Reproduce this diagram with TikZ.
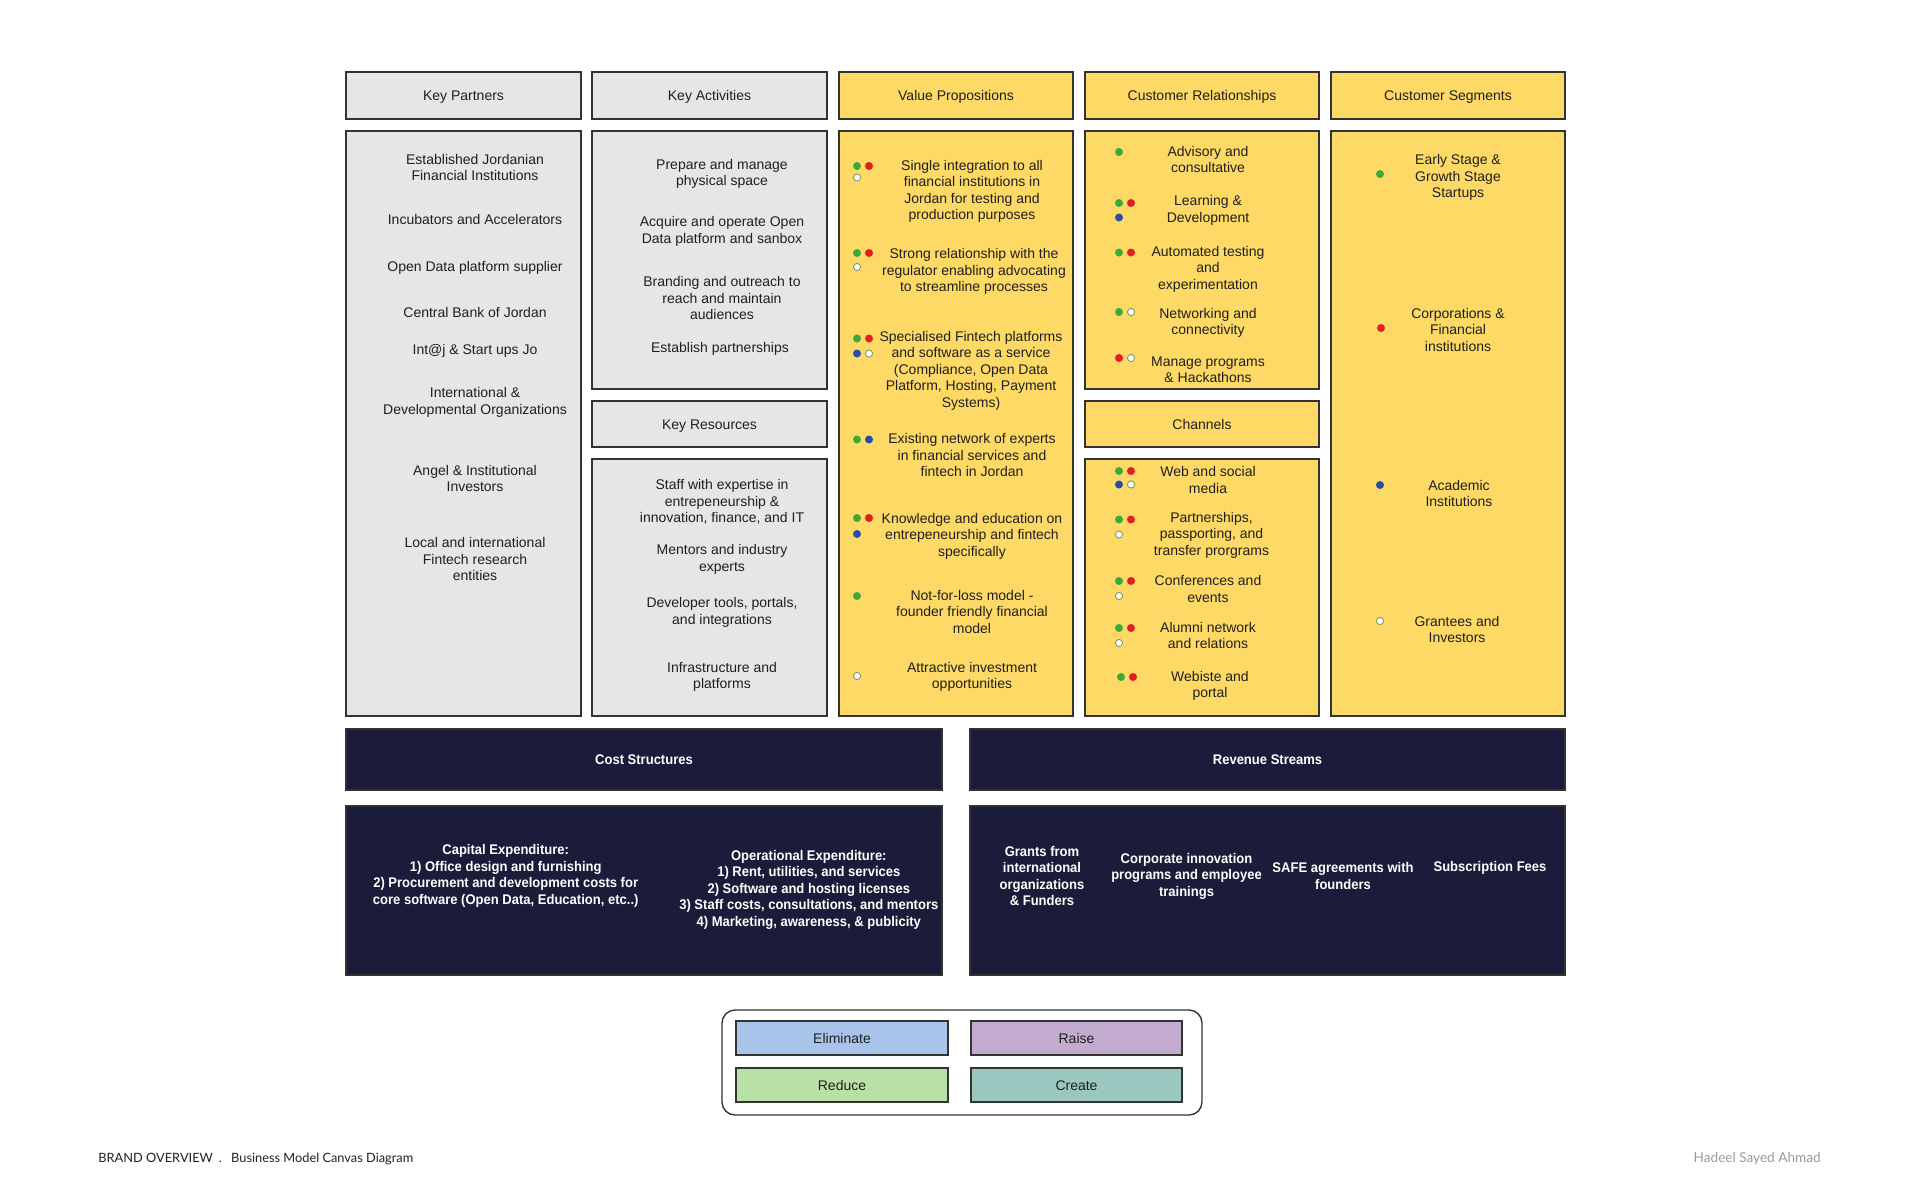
\documentclass[tikz,border=0pt]{standalone}
\usepackage{fontspec}
\setmainfont{Liberation Sans}
\newfontfamily\navyfont[FakeStretch=0.93]{Liberation Sans}
\newfontfamily\footfont{Lato}
\definecolor{kgray}{HTML}{E6E6E6}
\definecolor{kyel}{HTML}{FFD966}
\definecolor{knavy}{HTML}{1B1B3A}
\definecolor{kline}{HTML}{333333}
\definecolor{ktext}{HTML}{1F1F1F}
\definecolor{celim}{HTML}{A9C4EB}
\definecolor{craise}{HTML}{C3ABD0}
\definecolor{creduce}{HTML}{B9E0A5}
\definecolor{ccreate}{HTML}{9AC7BF}
\definecolor{dgreen}{HTML}{3BAA3B}
\definecolor{dred}{HTML}{E31E24}
\definecolor{dblue}{HTML}{2B4BA8}
\definecolor{dwline}{HTML}{7E9A6A}
\definecolor{footdark}{HTML}{222222}
\definecolor{footgray}{HTML}{9A9A9A}
\tikzset{
  base/.style={draw=kline, line width=0.7pt, inner sep=0pt, outer sep=0pt,
    font=\fontsize{7}{8.2}\selectfont, text=ktext, align=center,
    text height=5pt, text depth=0pt},
  gbox/.style={base, fill=kgray},
  ybox/.style={base, fill=kyel},
  nbox/.style={base, fill=knavy, text=white, font=\navyfont\bfseries\fontsize{7}{8.25}\selectfont},
  legout/.style={draw=kline, line width=0.7pt, rounded corners=6.5pt, fill=white, inner sep=0pt},
  txt/.style={inner sep=0pt, align=center, font=\fontsize{7}{8.2}\selectfont, text=ktext},
  ntxt/.style={inner sep=0pt, align=center, text=white, font=\navyfont\bfseries\fontsize{7}{8.25}\selectfont},
  dotg/.style={circle, inner sep=0pt, minimum size=4pt, fill=dgreen},
  dotr/.style={circle, inner sep=0pt, minimum size=4pt, fill=dred},
  dotb/.style={circle, inner sep=0pt, minimum size=4pt, fill=dblue},
  dotw/.style={circle, inner sep=0pt, minimum size=3.6pt, fill=white, draw=dwline, line width=0.45pt},
}
\newcommand\bx[7]{%
  \pgfmathsetmacro\bxcx{(#3+#5)/2}%
  \pgfmathsetmacro\bxcy{(#4+#6)/2}%
  \pgfmathsetmacro\bxw{(#5-#3)/2}%
  \pgfmathsetmacro\bxh{(#6-#4)/2}%
  \node[#2, minimum width=\bxw pt, minimum height=\bxh pt] (#1) at (\bxcx,\bxcy) {#7};}
\newcommand\dt[4]{\node[#1] (#2) at (#3,#4) {};}
\begin{document}
\begin{tikzpicture}[x=0.5pt,y=-0.5pt]
\fill[white] (0,0) rectangle (1920,1200);
\useasboundingbox (0,0) rectangle (1920,1200);

% headers
\bx{kph}{gbox}{346}{72}{581}{119}{Key Partners}
\bx{kah}{gbox}{592}{72}{827}{119}{Key Activities}
\bx{vph}{ybox}{839}{72}{1073}{119}{Value Propositions}
\bx{crh}{ybox}{1085}{72}{1319}{119}{Customer Relationships}
\bx{csh}{ybox}{1331}{72}{1565}{119}{Customer Segments}

% content boxes
\bx{kpc}{gbox}{346}{131}{581}{716}{}
\bx{kac}{gbox}{592}{131}{827}{389}{}
\bx{krh}{gbox}{592}{401}{827}{447}{Key Resources}
\bx{krc}{gbox}{592}{459}{827}{716}{}
\bx{vpc}{ybox}{839}{131}{1073}{716}{}
\bx{crc}{ybox}{1085}{131}{1319}{389}{}
\bx{chh}{ybox}{1085}{401}{1319}{447}{Channels}
\bx{chc}{ybox}{1085}{459}{1319}{716}{}
\bx{csc}{ybox}{1331}{131}{1565}{716}{}

% cost / revenue
\bx{costh}{nbox}{346}{729}{942}{790}{Cost Structures}
\bx{costc}{nbox}{346}{806}{942}{975}{}
\bx{revh}{nbox}{970}{729}{1565}{790}{Revenue Streams}
\bx{revc}{nbox}{970}{806}{1565}{975}{}

% legend
\bx{leg}{legout}{722}{1010}{1202}{1115}{}
\bx{elim}{base,fill=celim}{736}{1021}{948}{1055}{Eliminate}
\bx{raise}{base,fill=craise}{971}{1021}{1182}{1055}{Raise}
\bx{reduce}{base,fill=creduce}{736}{1068}{948}{1102}{Reduce}
\bx{create}{base,fill=ccreate}{971}{1068}{1182}{1102}{Create}

% Key Partners
\node[txt] (kp1) at (475,167.5) {Established Jordanian\\Financial Institutions};
\node[txt] (kp2) at (475,219) {Incubators and Accelerators};
\node[txt] (kp3) at (475,268.3) {Open Data platform supplier};
\node[txt] (kp4) at (475,312.3) {Central Bank of Jordan};
\node[txt] (kp5) at (475,351) {Int@j \& Start ups Jo};
\node[txt] (kp6) at (475,402.5) {International \&\\Developmental Organizations};
\node[txt] (kp7) at (475,478.7) {Angel \& Institutional\\Investors};
\node[txt] (kp8) at (475,559.3) {Local and international\\Fintech research\\entities};

% Key Activities
\node[txt] (ka1) at (722,173.8) {Prepare and manage\\physical space};
\node[txt] (ka2) at (722,231.2) {Acquire and operate Open\\Data platform and sanbox};
\node[txt] (ka3) at (722,298.3) {Branding and outreach to\\reach and maintain\\audiences};
\node[txt] (ka4) at (720,349) {Establish partnerships};

% Key Resources
\node[txt] (kr1) at (722,502) {Staff with expertise in\\entrepeneurship \&\\innovation, finance, and IT};
\node[txt] (kr2) at (722,559.3) {Mentors and industry\\experts};
\node[txt] (kr3) at (722,612.3) {Developer tools, portals,\\and integrations};
\node[txt] (kr4) at (722,676.7) {Infrastructure and\\platforms};

% Value Propositions
\node[txt] (vp1) at (972,191.2) {Single integration to all\\financial institutions in\\Jordan for testing and\\production purposes};
\node[txt] (vp2) at (974,271.7) {Strong relationship with the\\regulator enabling advocating\\to streamline processes};
\node[txt] (vp3) at (971,370.7) {Specialised Fintech platforms\\and software as a service\\(Compliance, Open Data\\Platform, Hosting, Payment\\Systems)};
\node[txt] (vp4) at (972,455) {Existing network of experts\\in financial services and\\fintech in Jordan};
\node[txt] (vp5) at (972,536) {Knowledge and education on\\entrepeneurship and fintech\\specifically};
\node[txt] (vp6) at (972,611.7) {Not-for-loss model -\\founder friendly financial\\model};
\node[txt] (vp7) at (972,676.7) {Attractive investment\\opportunities};

\dt{dotg}{v1g}{857}{166}\dt{dotr}{v1r}{869}{166}\dt{dotw}{v1w}{857}{177.5}
\dt{dotg}{v2g}{857}{253}\dt{dotr}{v2r}{869}{253}\dt{dotw}{v2w}{857}{267}
\dt{dotg}{v3g}{857}{338.5}\dt{dotr}{v3r}{869}{338.5}\dt{dotb}{v3b}{857}{353.5}\dt{dotw}{v3w}{869}{353.5}
\dt{dotg}{v4g}{857}{439.5}\dt{dotb}{v4b}{869}{439.5}
\dt{dotg}{v5g}{857}{518}\dt{dotr}{v5r}{869}{518}\dt{dotb}{v5b}{857}{534}
\dt{dotg}{v6g}{857}{596}
\dt{dotw}{v7w}{857}{676}

% Customer Relationships
\node[txt] (cr1) at (1208,159.2) {Advisory and\\consultative};
\node[txt] (cr2) at (1208,210.5) {Learning \&\\Development};
\node[txt] (cr3) at (1208,269.3) {Automated testing\\and\\experimentation};
\node[txt] (cr4) at (1208,322.8) {Networking and\\connectivity};
\node[txt] (cr5) at (1208,369.7) {Manage programs\\\& Hackathons};

\dt{dotg}{c1g}{1119}{152}
\dt{dotg}{c2g}{1119}{203}\dt{dotr}{c2r}{1131}{203}\dt{dotb}{c2b}{1119}{217.5}
\dt{dotg}{c3g}{1119}{252.5}\dt{dotr}{c3r}{1131}{252.5}
\dt{dotg}{c4g}{1119}{312}\dt{dotw}{c4w}{1131}{312}
\dt{dotr}{c5r}{1119}{358}\dt{dotw}{c5w}{1131}{358}

% Channels
\node[txt] (ch1) at (1208,480) {Web and social\\media};
\node[txt] (ch2) at (1211.5,535) {Partnerships,\\passporting, and\\transfer prorgrams};
\node[txt] (ch3) at (1208,588.8) {Conferences and\\events};
\node[txt] (ch4) at (1208,635.7) {Alumni network\\and relations};
\node[txt] (ch5) at (1210,686) {Webiste and\\portal};

\dt{dotg}{h1g}{1119}{471}\dt{dotr}{h1r}{1131}{471}\dt{dotb}{h1b}{1119}{484.5}\dt{dotw}{h1w}{1131}{484.5}
\dt{dotg}{h2g}{1119}{519.5}\dt{dotr}{h2r}{1131}{519.5}\dt{dotw}{h2w}{1119}{534.5}
\dt{dotg}{h3g}{1119}{581}\dt{dotr}{h3r}{1131}{581}\dt{dotw}{h3w}{1119}{596}
\dt{dotg}{h4g}{1119}{628}\dt{dotr}{h4r}{1131}{628}\dt{dotw}{h4w}{1119}{643}
\dt{dotg}{h5g}{1121}{677}\dt{dotr}{h5r}{1133}{677}

% Customer Segments
\node[txt] (cs1) at (1458,177.5) {Early Stage \&\\Growth Stage\\Startups};
\node[txt] (cs2) at (1458,329.8) {Corporations \&\\Financial\\institutions};
\node[txt] (cs3) at (1459,493.5) {Academic\\Institutions};
\node[txt] (cs4) at (1457,629.5) {Grantees and\\Investors};

\dt{dotg}{s1g}{1380}{174}
\dt{dotr}{s2r}{1381}{328}
\dt{dotb}{s3b}{1380}{485}
\dt{dotw}{s4w}{1380}{621}

% cost contents
\node[ntxt] (co1) at (505.7,875.8) {Capital Expenditure:\\1) Office design and furnishing\\2) Procurement and development costs for\\core software (Open Data, Education, etc..)};
\node[ntxt] (co2) at (808.8,889.7) {Operational Expenditure:\\1) Rent, utilities, and services\\2) Software and hosting licenses\\3) Staff costs, consultations, and mentors\\4) Marketing, awareness, \& publicity};

% revenue contents
\node[ntxt] (rv1) at (1042,875.8) {Grants from\\international\\organizations\\\& Funders};
\node[ntxt] (rv2) at (1186.5,876) {Corporate innovation\\programs and employee\\trainings};
\node[ntxt] (rv3) at (1343,875.8) {SAFE agreements with\\founders};
\node[ntxt] (rv4) at (1490,867.7) {Subscription Fees};

% footer
\node[anchor=west, inner sep=0pt, text=footdark, font=\footfont\fontsize{6.4}{8}\selectfont] (foot1) at (98,1159) {BRAND OVERVIEW\hspace{3pt}.\hspace{3pt} Business Model Canvas Diagram};
\node[anchor=east, inner sep=0pt, text=footgray, font=\footfont\fontsize{6.8}{8}\selectfont] (foot2) at (1821,1159) {Hadeel Sayed Ahmad};
\end{tikzpicture}
\end{document}
